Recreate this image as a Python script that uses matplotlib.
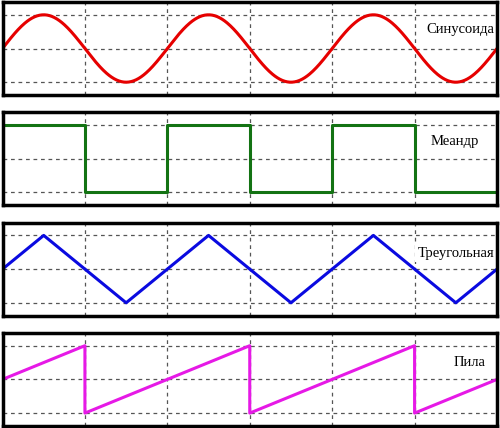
import numpy as np
import matplotlib
matplotlib.use("Agg")
import matplotlib.pyplot as plt

# waveform data (time in periods, value in amplitudes)
labels = ["Синусоида", "Меандр", "Треугольная", "Пила"]
colors = ["#e60000", "#137313", "#0a0ae0", "#e619e6"]

sine_cycles = 3
sine_amplitude = 1.0

meander_t = [0, 0.5, 0.5, 1.0, 1.0, 1.5, 1.5, 2.0, 2.0, 2.5, 2.5, 3.0]
meander_y = [1, 1, -1, -1, 1, 1, -1, -1, 1, 1, -1, -1]

triangle_t = [0, 0.25, 0.75, 1.25, 1.75, 2.25, 2.75, 3.0]
triangle_y = [0, 1, -1, 1, -1, 1, -1, 0]

saw_t = [0, 0.5, 0.5, 1.5, 1.5, 2.5, 2.5, 3.0]
saw_y = [0, 1, -1, 1, -1, 1, -1, 0]

W, H = 500, 428
fig = plt.figure(figsize=(W / 100, H / 100), dpi=100)

t_sine = np.linspace(0, sine_cycles, 600)
series = [
    (t_sine, sine_amplitude * np.sin(2 * np.pi * t_sine)),
    (meander_t, meander_y),
    (triangle_t, triangle_y),
    (saw_t, saw_y),
]
label_pos = [(460, 30), (455, 142), (456, 253), (470, 362)]

for i, ((t, y), lab, col) in enumerate(zip(series, labels, colors)):
    top = 2 + 110.3 * i
    h = 93
    ax = fig.add_axes([2.5 / W, 1 - (top + h) / H, 494.5 / W, h / H])
    ax.plot(t, y, color=col, lw=2.2, zorder=2)
    ax.set_xlim(0, 3)
    ax.set_ylim(-1.38, 1.38)
    ax.set_xticks(np.arange(0, 3.01, 0.5))
    ax.set_yticks([-1, 0, 1])
    ax.grid(True, ls=(0, (3, 3)), color="#555555", lw=0.9)
    ax.tick_params(length=0, labelbottom=False, labelleft=False)
    for s in ax.spines.values():
        s.set_linewidth(2.5)
        s.set_color("black")
    lx, ly = label_pos[i]
    ax.text(lx / W, 1 - ly / H, lab, ha="center", va="center",
            transform=fig.transFigure, family="Liberation Serif", fontsize=10.5,
            bbox=dict(facecolor="white", edgecolor="none", pad=2), zorder=2.4)

fig.savefig("out.png", dpi=100)
